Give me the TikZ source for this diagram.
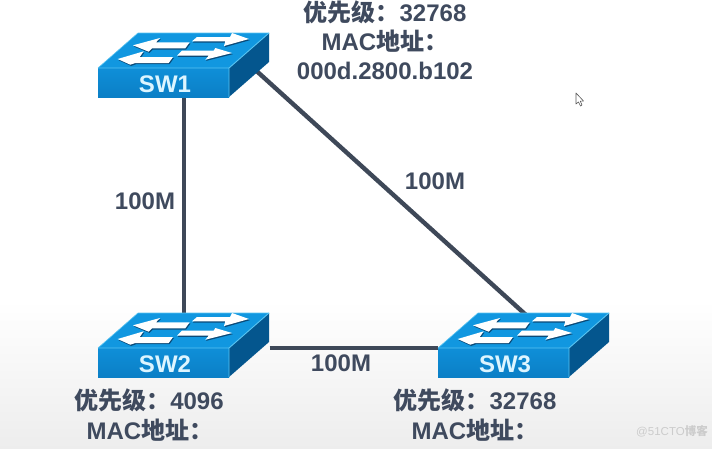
\documentclass[tikz,border=0pt]{standalone}
\usepackage{fontspec}
\setmainfont{Liberation Sans}
\newfontfamily\zhfont{Noto Sans CJK SC}
\newcommand{\zhb}[1]{{\zhfont\bfseries #1}}
\definecolor{txt}{HTML}{3F4A5E}
\definecolor{lnk}{HTML}{3E4858}
\definecolor{swfront}{HTML}{0F8FD8}
\definecolor{swfrontd}{HTML}{0B7FC6}
\definecolor{swtop}{HTML}{1197E0}
\definecolor{swside}{HTML}{04568E}
\definecolor{swedge}{HTML}{58C4F2}
\definecolor{swshadow}{HTML}{0A4A78}
\definecolor{swlabel}{HTML}{DDF5FF}
\tikzset{
  x=1pt,y=-1pt,
  link/.style={draw=lnk,line width=4.4pt},
  lab/.style={font=\bfseries\fontsize{24}{26}\selectfont,text=txt,inner sep=0pt,align=center},
  swbox/.style={minimum width=171pt,minimum height=63pt,inner sep=0pt},
  swname/.style={font=\bfseries\fontsize{24}{26}\selectfont,text=swlabel,inner sep=0pt},
  arrowface/.style={fill=white},
  arrowshade/.style={fill=swshadow},
}
\newcommand{\myswarrow}[7]{%
  \fill[arrowshade] ([shift={(0.8,1.2)}]#1) -- ([shift={(0.8,1.2)}]#2) -- ([shift={(0.8,1.2)}]#3) -- ([shift={(0.8,1.2)}]#4) -- ([shift={(0.8,1.2)}]#5) -- ([shift={(0.8,1.2)}]#6) -- ([shift={(0.8,1.2)}]#7) -- cycle;
  \fill[arrowface] (#1) -- (#2) -- (#3) -- (#4) -- (#5) -- (#6) -- (#7) -- cycle;}
\newcommand{\switchicon}[3]{%
  \begin{scope}[shift={(#1,#2)}]
    \fill[swtop] (0,0) -- (40,-35) -- (171,-35) -- (131,0) -- cycle;
    \fill[swside] (131,0) -- (171,-35) -- (171,-6) -- (131,29) -- cycle;
    \shade[top color=swfront,bottom color=swfrontd] (0,0) rectangle (131,29);
    \draw[swedge,line width=0.9pt,line join=round] (0,0) -- (131,0) -- (171,-35) (131,0) -- (131,29);
    \draw[swedge,line width=0.6pt] (0,0) -- (40,-35) -- (171,-35);
    \myswarrow{94,-26.7}{99,-31}{132,-31}{134,-35}{151,-29}{126,-22}{127.3,-26.7}
    \myswarrow{35,-22.7}{62,-30}{58,-25.7}{91.7,-25.7}{87.3,-19.7}{54,-19.7}{50.7,-16.3}
    \myswarrow{79,-12.3}{84,-17.3}{115.7,-17.3}{117.3,-20}{134,-15}{107.3,-8.3}{110.7,-12.3}
    \myswarrow{19.7,-9}{45.7,-16.7}{41.7,-11}{75,-11}{70.7,-5}{37.3,-5}{32.3,-3.3}
    \node[swname] at (67,16) {#3};
  \end{scope}}
\begin{document}
\begin{tikzpicture}
\useasboundingbox (0,0) rectangle (712,448);
\fill[white] (0,0) rectangle (712,300);
\shade[top color=white,bottom color=black!7] (0,300) rectangle (712,448);

% anchoring boxes of the three switches
\node[swbox] (sw1) at (184,64.5) {};
\node[swbox] (sw2) at (184,348) {};
\node[swbox] (sw3) at (523.5,348) {};
\coordinate (sw1out) at (240,56);
\coordinate (sw3in) at (531,319.5);

% links, drawn under the switches
\draw[link] (sw1) -- (sw2);
\draw[link] (sw1out) -- (sw3in);
\draw[link] (sw2) -- (sw3);

\switchicon{98}{68}{SW1}
\switchicon{98}{348}{SW2}
\switchicon{438}{348}{SW3}

% link labels
\node[lab] (l12) at (145,201) {100M};
\node[lab] (l13) at (435,181) {100M};
\node[lab] (l23) at (341,363) {100M};

% switch data
\node[lab] (p1) at (385,12) {\zhb{优先级：}32768};
\node[lab] (m1) at (385,41) {MAC\zhb{地址：}};
\node[lab] (a1) at (385,71) {000d.2800.b102};
\node[lab] (p2) at (149,400) {\zhb{优先级：}4096};
\node[lab] (m2) at (150,430) {MAC\zhb{地址：}};
\node[lab] (p3) at (475,400) {\zhb{优先级：}32768};
\node[lab] (m3) at (475,430) {MAC\zhb{地址：}};

% mouse pointer
\draw[black!65,fill=white,line width=0.6pt,line join=round] (576,93) -- (576,104) -- (578.5,102) -- (580.5,106) -- (582,105) -- (580.3,101.2) -- (583.5,101) -- cycle;

% watermark
\node[inner sep=0pt,text=black!20,font=\fontsize{11.5}{14}\selectfont] (wm) at (672,431) {@51CTO\zhb{博客}};
\end{tikzpicture}
\end{document}
